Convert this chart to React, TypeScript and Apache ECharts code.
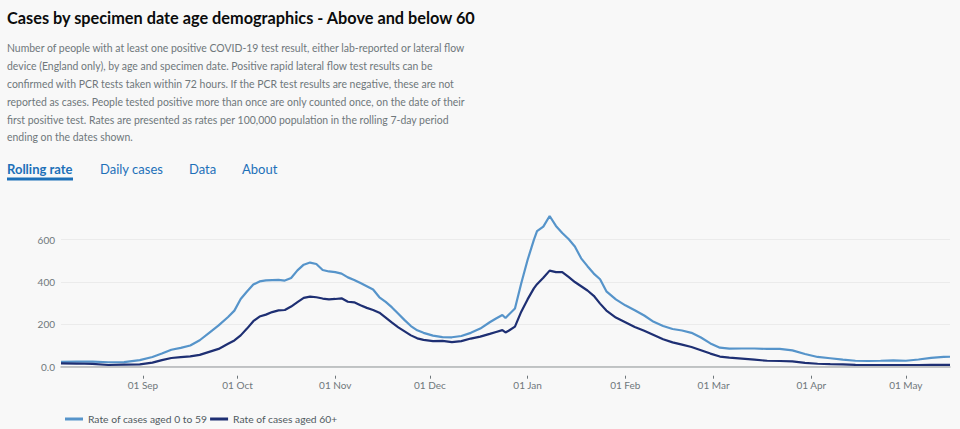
import { useEffect, useRef } from "react";
import * as echarts from "echarts";

const titleText = "Cases by specimen date age demographics - Above and below 60";
const descriptionLines = [
  "Number of people with at least one positive COVID-19 test result, either lab-reported or lateral flow",
  "device (England only), by age and specimen date. Positive rapid lateral flow test results can be",
  "confirmed with PCR tests taken within 72 hours. If the PCR test results are negative, these are not",
  "reported as cases. People tested positive more than once are only counted once, on the date of their",
  "first positive test. Rates are presented as rates per 100,000 population in the rolling 7-day period",
  "ending on the dates shown.",
];
const tabs = ["Rolling rate", "Daily cases", "Data", "About"];
const seriesNames = ["Rate of cases aged 0 to 59", "Rate of cases aged 60+"];

const dates = [
  "2020-08-06", "2020-08-11", "2020-08-16", "2020-08-21", "2020-08-26", "2020-08-31",
  "2020-09-04", "2020-09-07", "2020-09-10", "2020-09-13", "2020-09-16", "2020-09-19",
  "2020-09-22", "2020-09-25", "2020-09-28", "2020-09-30", "2020-10-02", "2020-10-04",
  "2020-10-06", "2020-10-08", "2020-10-10", "2020-10-12", "2020-10-14", "2020-10-16",
  "2020-10-18", "2020-10-20", "2020-10-22", "2020-10-24", "2020-10-26", "2020-10-28",
  "2020-10-30", "2020-11-01", "2020-11-03", "2020-11-05", "2020-11-07", "2020-11-09",
  "2020-11-11", "2020-11-13", "2020-11-15", "2020-11-17", "2020-11-19", "2020-11-21",
  "2020-11-23", "2020-11-25", "2020-11-27", "2020-11-29", "2020-12-02", "2020-12-05",
  "2020-12-08", "2020-12-11", "2020-12-14", "2020-12-17", "2020-12-20", "2020-12-22",
  "2020-12-24", "2020-12-25", "2020-12-26", "2020-12-28", "2020-12-30", "2021-01-01",
  "2021-01-03", "2021-01-04", "2021-01-06", "2021-01-08", "2021-01-10", "2021-01-12",
  "2021-01-14", "2021-01-16", "2021-01-18", "2021-01-20", "2021-01-22", "2021-01-24",
  "2021-01-26", "2021-01-29", "2021-02-01", "2021-02-04", "2021-02-07", "2021-02-10",
  "2021-02-13", "2021-02-16", "2021-02-19", "2021-02-22", "2021-02-25", "2021-02-28",
  "2021-03-03", "2021-03-06", "2021-03-10", "2021-03-14", "2021-03-18", "2021-03-22",
  "2021-03-26", "2021-03-30", "2021-04-03", "2021-04-07", "2021-04-11", "2021-04-15",
  "2021-04-19", "2021-04-23", "2021-04-27", "2021-05-01", "2021-05-05", "2021-05-09",
  "2021-05-13", "2021-05-15",
];

const rateUnder60 = [
  23, 24, 24, 21, 22, 31,
  46, 62, 80, 89, 100, 125,
  160, 195, 235, 265, 320, 355,
  388, 403, 408, 409, 410, 407,
  419, 455, 482, 492, 485, 457,
  450, 447, 440, 422, 410, 395,
  380, 365, 328, 306, 280, 250,
  220, 192, 172, 160, 147, 140,
  139, 145, 160, 180, 210, 228,
  244, 230, 245, 275, 394, 504,
  599, 640, 662, 712, 665, 632,
  603, 568, 512, 475, 440, 413,
  356, 318, 290, 267, 242, 212,
  192, 178, 171, 160, 138, 110,
  90, 85, 86, 86, 84, 84,
  77, 60, 46, 40, 33, 28,
  27, 28, 30, 28, 34, 42,
  46, 47,
];

const rate60Plus = [
  16, 15, 13, 8, 10, 11,
  19, 31, 41, 45, 49, 56,
  70, 84, 108, 124, 148, 180,
  215, 237, 246, 258, 266, 268,
  284, 305, 325, 331, 328, 322,
  318, 320, 323, 307, 304, 290,
  278, 268, 255, 232, 208, 186,
  167, 148, 134, 127, 121, 122,
  116, 121, 133, 142, 155, 164,
  173, 162, 170, 189, 260, 318,
  370, 390, 420, 454, 447, 447,
  424, 400, 380, 360, 335, 298,
  265, 232, 210, 188, 170, 150,
  130, 115, 104, 93, 78, 62,
  48, 43, 38, 33, 28, 27,
  25, 18, 14, 12, 11, 9,
  8, 8, 8, 8, 8, 9,
  9, 9,
];

const monthTicks = [
  "2020-09-01", "2020-10-01", "2020-11-01", "2020-12-01", "2021-01-01",
  "2021-02-01", "2021-03-01", "2021-04-01", "2021-05-01",
];
const monthNames = ["Jan", "Feb", "Mar", "Apr", "May", "Jun", "Jul", "Aug", "Sep", "Oct", "Nov", "Dec"];
const axisStart = "2020-08-06";
const axisEnd = "2021-05-15";

const toTime = (s: string) => {
  const [y, m, d] = s.split("-").map(Number);
  return Date.UTC(y, m - 1, d);
};

const FONT = "Lato, 'Noto Sans', sans-serif";

export default function App() {
  const ref = useRef<HTMLDivElement>(null);

  useEffect(() => {
    if (!ref.current) return;
    const chart = echarts.init(ref.current, null, { renderer: "svg" });
    const tickTimes = monthTicks.map(toTime);
    const fmt = (v: number) => {
      const d = new Date(v);
      const dd = String(d.getUTCDate()).padStart(2, "0");
      return `${dd} ${monthNames[d.getUTCMonth()]}`;
    };
    const tabX = [7, 100, 189, 242];

    const graphics: any[] = [
      {
        type: "text",
        x: 7,
        y: 17,
        style: {
          text: titleText,
          font: `bold 16.3px ${FONT}`,
          fill: "#0b0c0c",
          verticalAlign: "middle",
        },
      },
      ...descriptionLines.map((line, i) => ({
        type: "text",
        x: 7,
        y: 48.3 + i * 17.8,
        style: {
          text: line,
          font: `10.45px ${FONT}`,
          fill: "#6f777b",
          verticalAlign: "middle",
        },
      })),
      ...tabs.map((t, i) => ({
        type: "text",
        x: tabX[i],
        y: 169,
        style: {
          text: t,
          font: `${i === 0 ? "bold " : ""}13px ${FONT}`,
          fill: "#1d70b8",
          verticalAlign: "middle",
        },
      })),
      {
        type: "rect",
        shape: { x: 7, y: 177.5, width: 66, height: 3 },
        style: { fill: "#1d70b8" },
      },
    ];

    const xMin = toTime(axisStart);
    const xMax = toTime(axisEnd);

    chart.setOption({
      animation: false,
      backgroundColor: "#f8f8f8",
      textStyle: { fontFamily: FONT },
      graphic: graphics,
      grid: { left: 61, right: 10, top: 216, bottom: 62.3, containLabel: false },
      legend: {
        left: 60,
        top: 409,
        icon: "rect",
        itemWidth: 18,
        itemHeight: 3,
        itemGap: 3,
        textStyle: { color: "#505a5f", fontSize: 10.3, fontFamily: FONT },
        data: seriesNames,
      },
      xAxis: [
        {
          type: "value",
          min: xMin,
          max: xMax,
          axisLine: { show: true, lineStyle: { color: "#b1b4b6", width: 1.5 } },
          axisTick: { show: false },
          axisLabel: { show: false },
          splitLine: { show: false },
        },
        {
          type: "value",
          min: xMin,
          max: xMax,
          position: "bottom",
          offset: 9,
          axisLine: { show: false },
          axisTick: {
            show: true,
            length: 3,
            customValues: tickTimes,
            lineStyle: { color: "#6f777b", width: 1 },
          },
          axisLabel: {
            show: true,
            customValues: tickTimes,
            formatter: (v: number) => fmt(v),
            color: "#6f777b",
            fontSize: 10,
            margin: 4,
            fontFamily: FONT,
          },
          splitLine: { show: false },
        },
      ],
      yAxis: {
        type: "value",
        min: 0,
        max: "dataMax",
        interval: 200,
        axisLine: { show: false },
        axisTick: { show: false },
        axisLabel: {
          color: "#6f777b",
          fontSize: 10,
          margin: 6,
          showMaxLabel: false,
          fontFamily: FONT,
          formatter: (v: number) => (v === 0 ? "0.0" : String(v)),
        },
        splitLine: { show: true, showMaxLine: false, lineStyle: { color: "#ebebeb", width: 1 } },
      },
      series: [
        {
          name: seriesNames[0],
          type: "line",
          xAxisIndex: 0,
          data: dates.map((d, i) => [toTime(d), rateUnder60[i]]),
          showSymbol: false,
          lineStyle: { color: "#5694ca", width: 2.2 },
          itemStyle: { color: "#5694ca" },
        },
        {
          name: seriesNames[1],
          type: "line",
          xAxisIndex: 0,
          data: dates.map((d, i) => [toTime(d), rate60Plus[i]]),
          showSymbol: false,
          lineStyle: { color: "#1e2f73", width: 2.2 },
          itemStyle: { color: "#1e2f73" },
        },
      ],
    });

    return () => chart.dispose();
  }, []);

  return (
    <div
      ref={ref}
      style={{ position: "absolute", left: 0, top: 0, width: 960, height: 429 }}
    />
  );
}
